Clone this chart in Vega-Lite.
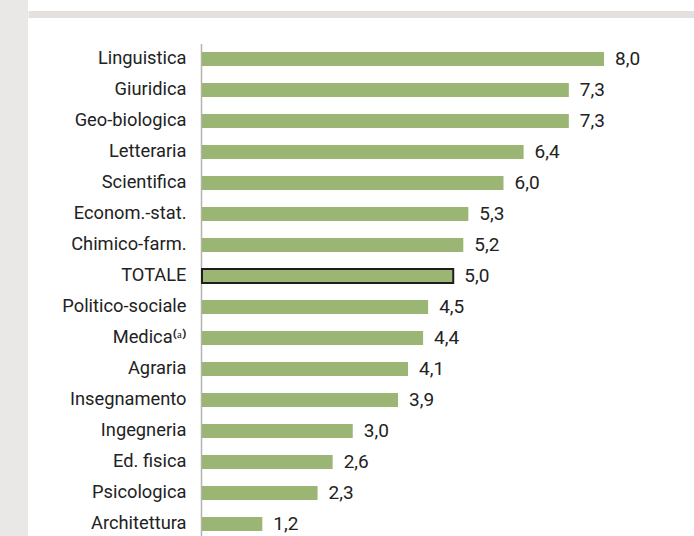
{
  "$schema": "https://vega.github.io/schema/vega-lite/v6.json",
  "width": 666,
  "height": 536,
  "autosize": {"type": "none"},
  "padding": {"left": 28, "top": 0, "right": 0, "bottom": 0},
  "background": "#e9e8e6",
  "config": {
    "view": {"fill": "#ffffff", "stroke": null},
    "locale": {"number": {"decimal": ",", "thousands": ".", "grouping": [3], "currency": ["€", ""]}},
    "font": "Roboto"
  },
  "data": {
    "values": [
      {"cat": "Linguistica", "value": 8.0},
      {"cat": "Giuridica", "value": 7.3},
      {"cat": "Geo-biologica", "value": 7.3},
      {"cat": "Letteraria", "value": 6.4},
      {"cat": "Scientifica", "value": 6.0},
      {"cat": "Econom.-stat.", "value": 5.3},
      {"cat": "Chimico-farm.", "value": 5.2},
      {"cat": "TOTALE", "value": 5.0},
      {"cat": "Politico-sociale", "value": 4.5},
      {"cat": "Medica⁽ᵃ⁾", "value": 4.4},
      {"cat": "Agraria", "value": 4.1},
      {"cat": "Insegnamento", "value": 3.9},
      {"cat": "Ingegneria", "value": 3.0},
      {"cat": "Ed. fisica", "value": 2.6},
      {"cat": "Psicologica", "value": 2.3},
      {"cat": "Architettura", "value": 1.2}
    ]
  },
  "encoding": {
    "y": {
      "field": "cat",
      "type": "nominal",
      "sort": null,
      "scale": {"range": [43.5, 539.5], "paddingInner": 0.548, "paddingOuter": 0.274},
      "axis": {
        "title": null,
        "orient": "left",
        "offset": -173,
        "ticks": false,
        "domainColor": "#b4b4ae",
        "domainWidth": 1.5,
        "labelFontSize": 18.3,
        "labelColor": "#222222",
        "labelPadding": 15,
        "labelFont": "Roboto"
      }
    },
    "x": {
      "field": "value",
      "type": "quantitative",
      "scale": {"domain": [-3.4627, 9.791], "nice": false, "zero": false},
      "axis": {
        "title": null,
        "orient": "top",
        "offset": -14,
        "labels": false,
        "ticks": false,
        "grid": false,
        "domainColor": "#e3e0dd",
        "domainWidth": 7
      }
    }
  },
  "layer": [
    {
      "mark": {"type": "bar", "color": "#9bb574", "strokeWidth": 2},
      "encoding": {
        "x2": {"datum": 0},
        "stroke": {
          "condition": {"test": "datum.cat === 'TOTALE'", "value": "#1e1e1e"},
          "value": null
        }
      }
    },
    {
      "mark": {"type": "text", "align": "left", "baseline": "middle", "dx": 11, "fontSize": 19, "color": "#222222", "font": "Roboto"},
      "encoding": {
        "text": {"field": "value", "type": "quantitative", "format": ".1f"}
      }
    }
  ]
}
